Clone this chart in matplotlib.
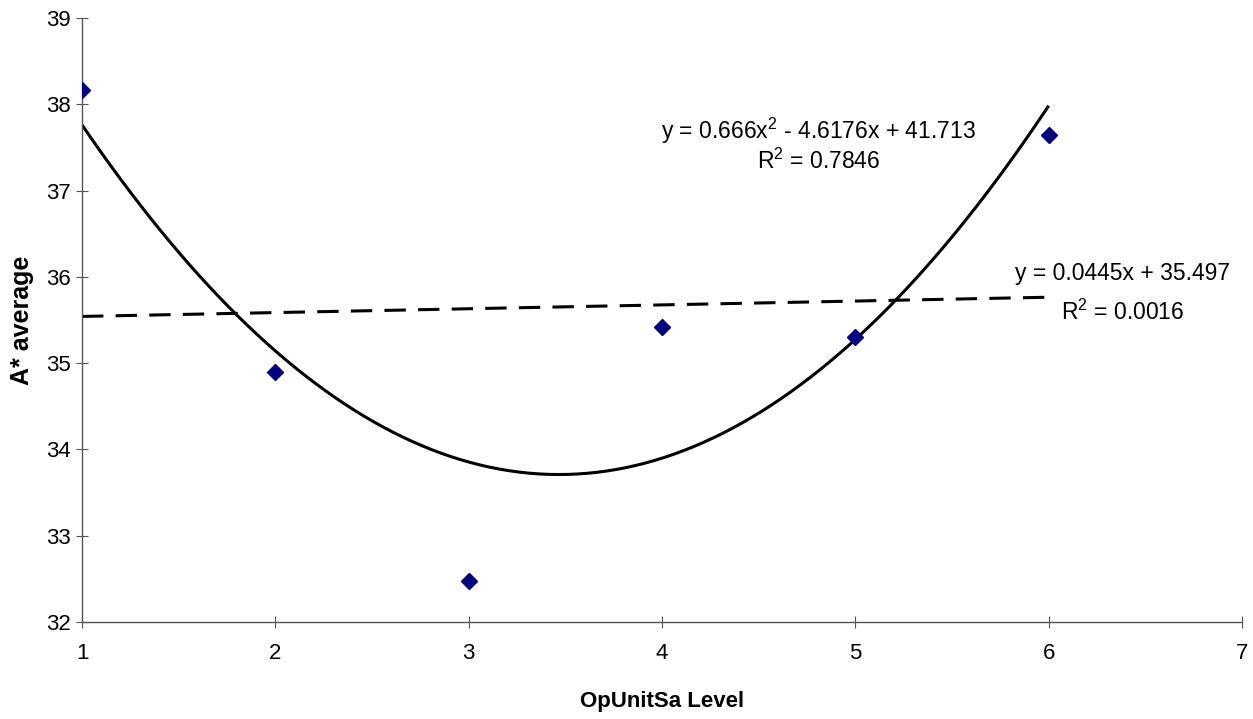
import matplotlib
matplotlib.use("Agg")
import matplotlib.pyplot as plt
import numpy as np

plt.rcParams['font.family'] = ['Liberation Sans', 'DejaVu Sans']
plt.rcParams['mathtext.fontset'] = 'custom'
plt.rcParams['mathtext.rm'] = 'Liberation Sans'

# data
levels = [1, 2, 3, 4, 5, 6]
a_avg = [38.17, 34.90, 32.48, 35.42, 35.30, 37.64]

# trendline coefficients as printed on the chart
quad_coef = [0.666, -4.6176, 41.713]
lin_coef = [0.0445, 35.497]
quad_r2 = "0.7846"
lin_r2 = "0.0016"

x_ticks = [1, 2, 3, 4, 5, 6, 7]
y_ticks = [32, 33, 34, 35, 36, 37, 38, 39]

fig = plt.figure(figsize=(12.53, 7.19), dpi=100)
ax = fig.add_axes([82/1253, 1-622/719, 1160/1253, 604/719])

xs = np.linspace(min(levels), max(levels), 200)
ax.plot(xs, np.polyval(quad_coef, xs), color='black', lw=2.2, solid_capstyle='butt')
ax.plot(xs, np.polyval(lin_coef, xs), color='black', lw=2.2, linestyle=(0, (7, 4)))
ax.plot(levels, a_avg, 'D', color='#000080', ms=8, mec='#000080', zorder=5)

ax.set_xlim(1, 7)
ax.set_ylim(32, 39)
ax.set_xticks(x_ticks)
ax.set_yticks(y_ticks)

for s in ['top', 'right']:
    ax.spines[s].set_visible(False)
for s in ['left', 'bottom']:
    ax.spines[s].set_color('#555555')
    ax.spines[s].set_linewidth(1)

ax.tick_params(axis='both', direction='inout', length=8.6, width=0.8,
               color='#555555', labelsize=16)
ax.tick_params(axis='x', pad=11)
ax.tick_params(axis='y', pad=4)

# trendline equations
ax.text(4.81, 37.598, r'y = 0.666x$^{\mathregular{2}}$ - 4.6176x + 41.713',
        ha='center', va='baseline', fontsize=16.5)
ax.text(4.81, 37.25, r'R$^{\mathregular{2}}$ = ' + quad_r2,
        ha='center', va='baseline', fontsize=16.5)
ax.text(6.383, 35.967, 'y = 0.0445x + 35.497',
        ha='center', va='baseline', fontsize=16.5, clip_on=False)
ax.text(6.383, 35.504, r'R$^{\mathregular{2}}$ = ' + lin_r2,
        ha='center', va='baseline', fontsize=16.5, clip_on=False)

ax.text(-0.0517, 0.5, 'A* average', transform=ax.transAxes, rotation=90,
        ha='center', va='center', fontsize=18, fontweight='bold')
ax.text(0.5, -0.132, 'OpUnitSa Level', transform=ax.transAxes,
        ha='center', va='center', fontsize=16, fontweight='bold')

fig.savefig('out.png', dpi=100)
